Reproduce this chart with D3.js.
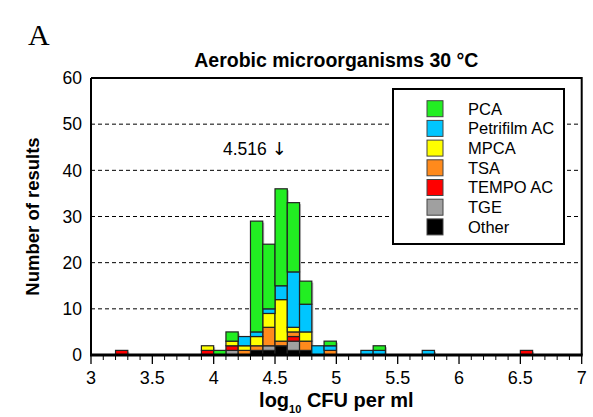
<!DOCTYPE html>
<html>
<head>
<meta charset="utf-8">
<script src="https://cdn.jsdelivr.net/npm/d3@7"></script>
<style>
  body { margin: 0; background: #fff; }
</style>
</head>
<body>
<svg id="plot" width="593" height="417" font-family="'Liberation Sans', Arial, sans-serif"></svg>
<script>
// bin starts (log10 CFU per ml), bin width 0.1
let bins = [3.2, 3.9, 4.0, 4.1, 4.2, 4.3, 4.4, 4.5, 4.6, 4.7, 4.8, 4.9, 5.2, 5.3, 5.7, 6.5]
let binWidth = 0.1

// counts per method, same order as bins (stack order bottom -> top)
let other     = [0, 0, 0, 0, 0, 1, 1, 2, 1, 1, 0, 0, 0, 0, 0, 0]
let tge       = [0, 0, 0, 1, 0, 0, 1, 0, 2, 0, 0, 0, 0, 0, 0, 0]
let tempo     = [1, 1, 0, 1, 0, 0, 0, 0, 1, 0, 0, 0, 0, 0, 0, 1]
let tsa       = [0, 0, 0, 0, 1, 1, 4, 1, 1, 2, 0, 1, 0, 0, 0, 0]
let mpca      = [0, 1, 0, 1, 1, 2, 3, 9, 1, 2, 0, 0, 0, 0, 0, 0]
let petrifilm = [0, 0, 0, 0, 2, 1, 1, 3, 12, 6, 2, 1, 1, 1, 1, 0]
let pca       = [0, 0, 1, 2, 0, 24, 14, 21, 15, 5, 0, 1, 0, 1, 0, 0]

let methods = ["Other", "TGE", "TEMPO AC", "TSA", "MPCA", "Petrifilm AC", "PCA"]
let series = [other, tge, tempo, tsa, mpca, petrifilm, pca]
let colors = ["#000000", "#a0a0a0", "#ff0000", "#ff8a1c", "#ffff00", "#00c6ff", "#22ee22"]
let legendOrder = ["PCA", "Petrifilm AC", "MPCA", "TSA", "TEMPO AC", "TGE", "Other"]

let xTicks = [3, 3.5, 4, 4.5, 5, 5.5, 6, 6.5, 7]
let yTicks = [0, 10, 20, 30, 40, 50, 60]
let median = 4.516

let svg = d3.select("#plot")

let margin_left = 91, margin_right = 11.3, margin_top = 78, margin_bottom = 62
let svgwidth = 593, svgheight = 417
let plot_width = svgwidth - margin_left - margin_right
let plot_height = svgheight - margin_top - margin_bottom

let x_scale = d3.scaleLinear([3, 7], [margin_left, margin_left + plot_width])
let y_scale = d3.scaleLinear([0, 60], [margin_top + plot_height, margin_top])

// table of rows for d3.stack
let rows = bins.map((b, i) => {
  let r = {bin: b}
  methods.forEach((m, k) => r[m] = series[k][i])
  return r
})
let stacked = d3.stack().keys(methods)(rows)
let totals = rows.map(r => d3.sum(methods, m => r[m]))

// gridlines
svg.append("g")
  .selectAll("line")
  .data(yTicks.filter(t => t > 0 && t < 60))
  .join("line")
  .attr("x1", margin_left)
  .attr("x2", margin_left + plot_width)
  .attr("y1", d => y_scale(d))
  .attr("y2", d => y_scale(d))
  .attr("stroke", "#000")
  .attr("stroke-width", 1)
  .attr("stroke-dasharray", "4,3")

// soft shadow behind each bar
svg.append("g")
  .selectAll("rect")
  .data(rows)
  .join("rect")
  .attr("x", d => x_scale(d.bin) + 1.5)
  .attr("y", (d, i) => y_scale(totals[i]) + 1.5)
  .attr("width", d => x_scale(d.bin + binWidth) - x_scale(d.bin))
  .attr("height", (d, i) => y_scale(0) - y_scale(totals[i]) - 1.5)
  .attr("fill", "#b8b8b8")

// stacked bars
let gBars = svg.append("g")
gBars.selectAll("g")
  .data(stacked)
  .join("g")
  .attr("fill", (d, k) => colors[k])
  .selectAll("rect")
  .data(d => d.filter(s => s[1] > s[0]))
  .join("rect")
  .attr("x", d => x_scale(d.data.bin))
  .attr("y", d => y_scale(d[1]))
  .attr("width", d => x_scale(d.data.bin + binWidth) - x_scale(d.data.bin))
  .attr("height", d => y_scale(d[0]) - y_scale(d[1]))
  .attr("stroke", "#222")
  .attr("stroke-width", 1.2)

// frame: top and right
svg.append("path")
  .attr("d", `M${margin_left},${margin_top}H${margin_left + plot_width}V${margin_top + plot_height}`)
  .attr("fill", "none")
  .attr("stroke", "#000")
  .attr("stroke-width", 2)

// left axis line
svg.append("line")
  .attr("x1", margin_left).attr("x2", margin_left)
  .attr("y1", margin_top).attr("y2", margin_top + plot_height)
  .attr("stroke", "#000")
  .attr("stroke-width", 2)

// y tick labels
svg.append("g")
  .selectAll("text")
  .data(yTicks)
  .join("text")
  .attr("x", margin_left - 9)
  .attr("y", d => y_scale(d))
  .attr("dy", "0.36em")
  .attr("text-anchor", "end")
  .attr("font-size", 17.5)
  .text(d => d)

// x axis: minor ticks every 0.1, major every 0.5
let minor = d3.range(30, 71).map(v => v / 10)
let isMajor = d => xTicks.some(t => Math.abs(t - d) < 1e-6)
let gx = svg.append("g").attr("transform", `translate(0,${margin_top + plot_height})`)
gx.selectAll("line.minor")
  .data(minor)
  .join("line")
  .attr("class", "minor")
  .attr("x1", d => x_scale(d)).attr("x2", d => x_scale(d))
  .attr("y1", 0)
  .attr("y2", d => isMajor(d) ? 9 : 5)
  .attr("stroke", "#000")
  .attr("stroke-width", d => isMajor(d) ? 1.3 : 1)
gx.append("line")
  .attr("x1", margin_left - 1).attr("x2", margin_left + plot_width + 1)
  .attr("y1", 0).attr("y2", 0)
  .attr("stroke", "#000")
  .attr("stroke-width", 3)
gx.selectAll("text")
  .data(xTicks)
  .join("text")
  .attr("x", d => x_scale(d))
  .attr("y", 29)
  .attr("text-anchor", "middle")
  .attr("font-size", 18)
  .text(d => d)

// axis titles
let x_lab = svg.append("text")
  .attr("x", margin_left + plot_width / 2)
  .attr("y", 407)
  .attr("text-anchor", "middle")
  .attr("font-size", 20)
  .attr("font-weight", "bold")
x_lab.append("tspan").text("log")
x_lab.append("tspan").attr("font-size", 11).attr("dy", 6).text("10")
x_lab.append("tspan").attr("dy", -6).text(" CFU per ml")

svg.append("text")
  .attr("text-anchor", "middle")
  .attr("transform", `translate(39,${margin_top + plot_height / 2}) rotate(-90)`)
  .attr("font-size", 18.5)
  .attr("font-weight", "bold")
  .text("Number of results")

// title
svg.append("text")
  .attr("x", margin_left + plot_width / 2)
  .attr("y", 67)
  .attr("text-anchor", "middle")
  .attr("font-size", 19.5)
  .attr("font-weight", "bold")
  .text("Aerobic microorganisms 30 °C")

// panel letter
svg.append("text")
  .attr("x", 28)
  .attr("y", 45)
  .attr("font-family", "'Liberation Serif', 'Times New Roman', serif")
  .attr("font-size", 30)
  .text("A")

// median annotation
let ann = svg.append("text")
  .attr("x", x_scale(median) - 54)
  .attr("y", 155)
  .attr("font-size", 17.5)
  .attr("fill", "#000")
ann.append("tspan").text(median + " ")
ann.append("tspan")
  .attr("font-family", "'DejaVu Sans', sans-serif")
  .attr("font-size", 18)
  .text("\u2193\uFE0E")

// legend
let lg = svg.append("g").attr("transform", "translate(393,89)")
lg.append("rect")
  .attr("width", 171).attr("height", 155)
  .attr("fill", "#fff")
  .attr("stroke", "#000")
  .attr("stroke-width", 2)
let items = lg.selectAll("g")
  .data(legendOrder)
  .join("g")
  .attr("transform", (d, i) => `translate(0,${19.7 + i * 19.7})`)
items.append("rect")
  .attr("x", 34).attr("y", -8)
  .attr("width", 16).attr("height", 16)
  .attr("fill", d => colors[methods.indexOf(d)])
  .attr("stroke", "#444")
  .attr("stroke-width", 1)
items.append("text")
  .attr("x", 75)
  .attr("dy", "0.36em")
  .attr("font-size", 16.5)
  .text(d => d)
</script>
</body>
</html>
